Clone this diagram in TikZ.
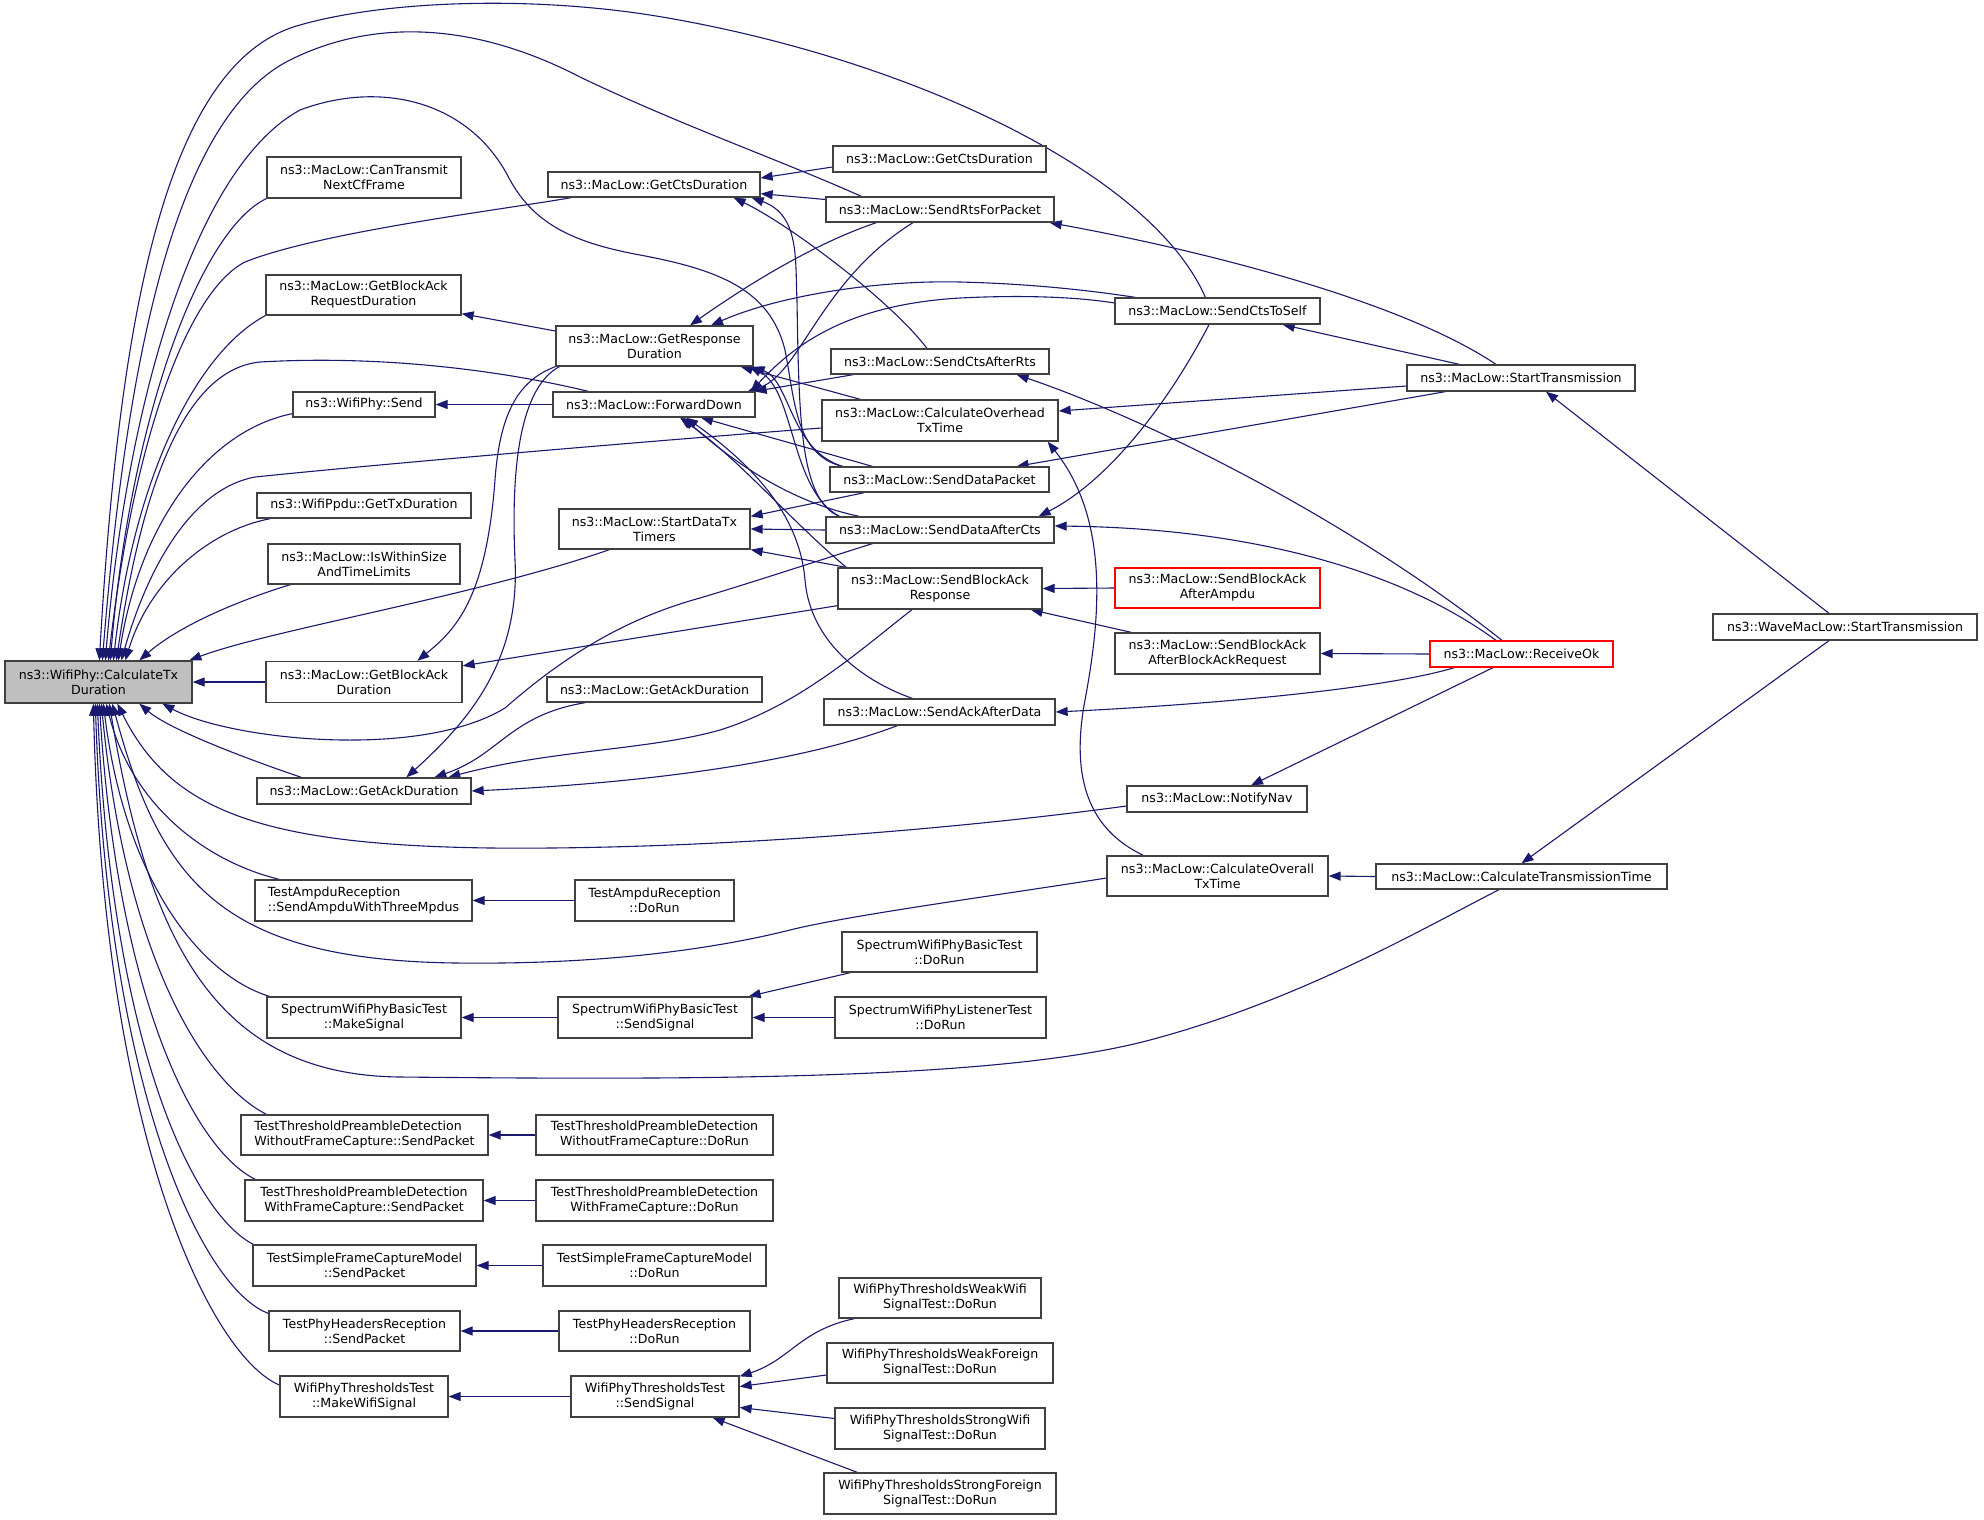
\documentclass[tikz,border=0pt]{standalone}
\usepackage{fontspec}
\setmainfont{DejaVu Sans}
\usetikzlibrary{arrows.meta,calc}
\pgfdeclarelayer{bg}
\pgfsetlayers{bg,main}
\definecolor{edgecol}{HTML}{191970}
\definecolor{boxcol}{HTML}{404040}
\definecolor{redcol}{HTML}{FF0000}
\definecolor{grayfill}{HTML}{BFBFBF}
\tikzset{
  box/.style={draw=boxcol, line width=1.3pt, fill=white, inner sep=0pt, align=center, font=\fontsize{12.6}{15}\selectfont},
  redbox/.style={box, draw=redcol},
  cedge/.style={draw=edgecol, line width=1.1pt, {Triangle[length=12pt,width=9pt]}-},
}
\begin{document}
\begin{tikzpicture}[x=1pt,y=-1pt]
\useasboundingbox (0,0) rectangle (1984,1519);
% column 1
\node[box,fill=grayfill,minimum width=187pt,minimum height=42pt] (ctd) at (98.5,682) {ns3::WifiPhy::CalculateTx\\Duration};
% column 2
\node[box,minimum width=194pt,minimum height=41pt] (cantx) at (364,177.5) {ns3::MacLow::CanTransmit\\NextCfFrame};
\node[box,minimum width=195pt,minimum height=40pt] (gbard) at (363.5,295) {ns3::MacLow::GetBlockAck\\RequestDuration};
\node[box,minimum width=142pt,minimum height=25pt] (send) at (364,404.5) {ns3::WifiPhy::Send};
\node[box,minimum width=214pt,minimum height=25pt] (ppdu) at (364,505.5) {ns3::WifiPpdu::GetTxDuration};
\node[box,minimum width=192pt,minimum height=40pt] (iswithin) at (364,564) {ns3::MacLow::IsWithinSize\\AndTimeLimits};
\node[box,minimum width=196pt,minimum height=41pt] (gbad) at (364,682) {ns3::MacLow::GetBlockAck\\Duration};
\node[box,minimum width=214pt,minimum height=26pt] (gadl) at (364,791) {ns3::MacLow::GetAckDuration};
\node[box,align=left,minimum width=217pt,minimum height=41pt] (ampdu) at (363.5,900.5) {TestAmpduReception\\::SendAmpduWithThreeMpdus};
\node[box,minimum width=194pt,minimum height=41pt] (mksig) at (364,1017.5) {SpectrumWifiPhyBasicTest\\::MakeSignal};
\node[box,align=left,minimum width=247pt,minimum height=40pt] (woSend) at (364.5,1135) {TestThresholdPreambleDetection\\WithoutFrameCapture::SendPacket};
\node[box,minimum width=238pt,minimum height=41pt] (wSend) at (364,1200.5) {TestThresholdPreambleDetection\\WithFrameCapture::SendPacket};
\node[box,minimum width=223pt,minimum height=41pt] (tsfcSend) at (364.5,1265.5) {TestSimpleFrameCaptureModel\\::SendPacket};
\node[box,minimum width=191pt,minimum height=40pt] (tphrSend) at (364.5,1331) {TestPhyHeadersReception\\::SendPacket};
\node[box,minimum width=168pt,minimum height=41pt] (mkwifi) at (364,1396.5) {WifiPhyThresholdsTest\\::MakeWifiSignal};
% column 3
\node[box,minimum width=212pt,minimum height=25pt] (gcd) at (654,184.5) {ns3::MacLow::GetCtsDuration};
\node[box,minimum width=197pt,minimum height=40pt] (grd) at (654.5,346) {ns3::MacLow::GetResponse\\Duration};
\node[box,minimum width=202pt,minimum height=25pt] (fwd) at (654,404.5) {ns3::MacLow::ForwardDown};
\node[box,minimum width=191pt,minimum height=40pt] (sdtt) at (654.5,529) {ns3::MacLow::StartDataTx\\Timers};
\node[box,minimum width=215pt,minimum height=25pt] (gadm) at (654.5,689.5) {ns3::MacLow::GetAckDuration};
\node[box,minimum width=159pt,minimum height=41pt] (ampduRun) at (654.5,900.5) {TestAmpduReception\\::DoRun};
\node[box,minimum width=194pt,minimum height=41pt] (ssig) at (655,1017.5) {SpectrumWifiPhyBasicTest\\::SendSignal};
\node[box,minimum width=237pt,minimum height=40pt] (woRun) at (654.5,1135) {TestThresholdPreambleDetection\\WithoutFrameCapture::DoRun};
\node[box,minimum width=237pt,minimum height=41pt] (wRun) at (654.5,1200.5) {TestThresholdPreambleDetection\\WithFrameCapture::DoRun};
\node[box,minimum width=223pt,minimum height=41pt] (tsfcRun) at (654.5,1265.5) {TestSimpleFrameCaptureModel\\::DoRun};
\node[box,minimum width=191pt,minimum height=40pt] (tphrRun) at (654.5,1331) {TestPhyHeadersReception\\::DoRun};
\node[box,minimum width=168pt,minimum height=41pt] (wpttSig) at (655,1396.5) {WifiPhyThresholdsTest\\::SendSignal};
% column 4
\node[box,minimum width=213pt,minimum height=26pt] (gcdr) at (939.5,159) {ns3::MacLow::GetCtsDuration};
\node[box,minimum width=228pt,minimum height=25pt] (srfp) at (940,209.5) {ns3::MacLow::SendRtsForPacket};
\node[box,minimum width=218pt,minimum height=25pt] (scar) at (940,361.5) {ns3::MacLow::SendCtsAfterRts};
\node[box,minimum width=236pt,minimum height=41pt] (coh) at (940,420.5) {ns3::MacLow::CalculateOverhead\\TxTime};
\node[box,minimum width=219pt,minimum height=25pt] (sdp) at (939.5,479.5) {ns3::MacLow::SendDataPacket};
\node[box,minimum width=228pt,minimum height=26pt] (sdac) at (940,530) {ns3::MacLow::SendDataAfterCts};
\node[box,minimum width=204pt,minimum height=41pt] (sbar) at (940,588.5) {ns3::MacLow::SendBlockAck\\Response};
\node[box,minimum width=231pt,minimum height=26pt] (saad) at (939.5,712) {ns3::MacLow::SendAckAfterData};
\node[box,minimum width=195pt,minimum height=40pt] (sbtRun) at (939.5,952) {SpectrumWifiPhyBasicTest\\::DoRun};
\node[box,minimum width=211pt,minimum height=41pt] (sltRun) at (940.5,1017.5) {SpectrumWifiPhyListenerTest\\::DoRun};
\node[box,minimum width=202pt,minimum height=40pt] (weakWifi) at (940,1298) {WifiPhyThresholdsWeakWifi\\SignalTest::DoRun};
\node[box,minimum width=226pt,minimum height=40pt] (weakForeign) at (940,1363) {WifiPhyThresholdsWeakForeign\\SignalTest::DoRun};
\node[box,minimum width=210pt,minimum height=41pt] (strongWifi) at (940,1428.5) {WifiPhyThresholdsStrongWifi\\SignalTest::DoRun};
\node[box,minimum width=232pt,minimum height=41pt] (strongForeign) at (940,1493.5) {WifiPhyThresholdsStrongForeign\\SignalTest::DoRun};
% column 5
\node[box,minimum width=205pt,minimum height=26pt] (scts) at (1217.5,311) {ns3::MacLow::SendCtsToSelf};
\node[redbox,minimum width=205pt,minimum height=40pt] (sbaaa) at (1217.5,588) {ns3::MacLow::SendBlockAck\\AfterAmpdu};
\node[box,minimum width=205pt,minimum height=41pt] (sbaabar) at (1217.5,653.5) {ns3::MacLow::SendBlockAck\\AfterBlockAckRequest};
\node[box,minimum width=180pt,minimum height=26pt] (nav) at (1217,799) {ns3::MacLow::NotifyNav};
\node[box,minimum width=221pt,minimum height=40pt] (cotx) at (1217.5,876) {ns3::MacLow::CalculateOverall\\TxTime};
% column 6
\node[box,minimum width=228pt,minimum height=26pt] (st) at (1521,378) {ns3::MacLow::StartTransmission};
\node[redbox,minimum width=183pt,minimum height=26pt] (rok) at (1521.5,654) {ns3::MacLow::ReceiveOk};
\node[box,minimum width=291pt,minimum height=25pt] (ctt) at (1521.5,876.5) {ns3::MacLow::CalculateTransmissionTime};
% column 7
\node[box,minimum width=264pt,minimum height=26pt] (wml) at (1845,627) {ns3::WaveMacLow::StartTransmission};

\begin{pgfonlayer}{bg}
\fill[white] (0,0) rectangle (1984,1519);
% ---- edges into CalculateTxDuration, top side
\draw[cedge] ($(ctd.north west)+(95,0)$) .. controls (120,300) and (170,60) .. (300,25) .. controls (380,2) and (520,-5) .. (650,15) .. controls (900,55) and (1150,170) .. ($(scts.north west)+(91,0)$);
\draw[cedge] ($(ctd.north west)+(98,0)$) .. controls (125,380) and (170,120) .. (290,60) .. controls (370,20) and (470,20) .. (580,77) .. controls (680,125) and (780,160) .. ($(srfp.north west)+(36,0)$);
\draw[cedge] ($(ctd.north west)+(101,0)$) .. controls (125,420) and (190,170) .. (300,110) .. controls (380,80) and (470,100) .. (510,180) .. controls (535,225) and (575,243) .. (640,255) .. controls (720,270) and (770,290) .. (785,350) .. controls (795,400) and (795,455) .. ($(sdp.north west)+(13,0)$);
\draw[cedge] ($(ctd.north west)+(104,0)$) .. controls (135,430) and (190,290) .. (245,262) .. controls (320,232) and (500,210) .. ($(gcd.south west)+(24,0)$);
\draw[cedge] ($(ctd.north west)+(106,0)$) .. controls (130,420) and (200,230) .. (cantx.south west);
\draw[cedge] ($(ctd.north west)+(109,0)$) .. controls (135,470) and (200,350) .. (gbard.south west);
\draw[cedge] ($(ctd.north west)+(112,0)$) .. controls (140,500) and (180,370) .. (260,362) .. controls (380,355) and (500,370) .. ($(fwd.north west)+(36,0)$);
\draw[cedge] ($(ctd.north west)+(114,0)$) .. controls (140,520) and (210,430) .. ($(send.south west)+(0,-4)$);
\draw[cedge] ($(ctd.north west)+(117,0)$) .. controls (150,560) and (195,488) .. (255,477) .. controls (400,462) and (700,437) .. ($(coh.west)+(0,7.5)$);
\draw[cedge] ($(ctd.north west)+(121,0)$) .. controls (150,580) and (210,530) .. ($(ppdu.south west)+(14,0)$);
\draw[cedge] ($(ctd.north west)+(135,0)$) .. controls (180,625) and (240,600) .. ($(iswithin.south west)+(23,0)$);
\draw[cedge] ($(ctd.north west)+(185,0)$) .. controls (270,630) and (480,595) .. ($(sdtt.south west)+(51,0)$);
\draw[cedge] (ctd.east) -- (gbad.west);
% ---- edges into CalculateTxDuration, bottom side
\draw[cedge] ($(ctd.south west)+(135,0)$) .. controls (170,730) and (250,760) .. ($(gadl.north west)+(45,0)$);
\draw[cedge] ($(ctd.south west)+(158,0)$) .. controls (230,740) and (420,760) .. (505,708) .. controls (560,660) and (620,620) .. (700,598) .. controls (760,580) and (820,560) .. ($(sdac.south west)+(47,0)$);
\draw[cedge] ($(ctd.south west)+(113,0)$) .. controls (170,810) and (260,845) .. (491,848) .. controls (700,850) and (950,830) .. ($(nav.west)+(0,7)$);
\draw[cedge] ($(ctd.south west)+(108,0)$) .. controls (160,880) and (220,960) .. (456,963) .. controls (620,965) and (730,945) .. (790,930) .. controls (850,915) and (1000,895) .. ($(cotx.west)+(0,2)$);
\draw[cedge] ($(ctd.south west)+(105,0)$) .. controls (150,950) and (220,1075) .. (400,1077) .. controls (700,1080) and (1000,1080) .. (1150,1040) .. controls (1300,1000) and (1420,930) .. ($(ctt.south)+(-22.5,0)$);
\draw[cedge] ($(ctd.south west)+(102,0)$) .. controls (130,800) and (200,860) .. ($(ampdu.north west)+(25,0)$);
\draw[cedge] ($(ctd.south west)+(99,0)$) .. controls (125,880) and (200,975) .. ($(mksig.north west)+(3,0)$);
\draw[cedge] ($(ctd.south west)+(97,0)$) .. controls (125,950) and (200,1080) .. ($(woSend.north west)+(26,0)$);
\draw[cedge] ($(ctd.south west)+(95,0)$) .. controls (118,1000) and (195,1150) .. ($(wSend.north west)+(11,0)$);
\draw[cedge] ($(ctd.south west)+(93,0)$) .. controls (112,1050) and (195,1215) .. ($(tsfcSend.north west)+(1,0)$);
\draw[cedge] ($(ctd.south west)+(91,0)$) .. controls (108,1100) and (205,1290) .. ($(tphrSend.north west)+(0,3)$);
\draw[cedge] ($(ctd.south west)+(89,0)$) .. controls (104,1150) and (215,1360) .. ($(mkwifi.north west)+(1,10)$);
% ---- column 3 targets
\draw[cedge] ($(gcd.east)+(0,-6.5)$) -- ($(gcdr.west)+(0,8)$);
\draw[cedge] ($(gcd.south east)+(0,-4)$) -- ($(srfp.west)+(0,-10)$);
\draw[cedge] ($(gcd.south east)+(-27,0)$) .. controls (790,225) and (890,300) .. ($(scar.north)+(-13,0)$);
\draw[cedge] ($(gcd.south east)+(-9,0)$) .. controls (800,215) and (795,260) .. (797,300) .. controls (799,420) and (800,500) .. ($(sdac.north west)+(14,0)$);
\draw[cedge] ($(gbard.south east)+(0,-2)$) -- ($(grd.west)+(0,-15)$);
\draw[cedge] ($(gbad.north west)+(152,0)$) .. controls (455,630) and (486,600) .. (495,480) .. controls (500,410) and (520,380) .. (grd.south west);
\draw[cedge] ($(gadl.north west)+(150,0)$) .. controls (470,720) and (520,660) .. (515,560) .. controls (510,450) and (525,385) .. ($(grd.south west)+(4,0)$);
\draw[cedge] ($(gadl.north west)+(178,0)$) .. controls (500,755) and (510,715) .. ($(gadm.south west)+(39,0)$);
\draw[cedge] ($(gadl.north west)+(192,0)$) .. controls (550,750) and (650,750) .. (720,730) .. controls (800,705) and (860,650) .. ($(sbar.south)+(-28,0)$);
\draw[cedge] (gadl.east) .. controls (600,785) and (780,770) .. ($(saad.south west)+(74,0)$);
\draw[cedge] ($(grd.north)+(35.5,0)$) .. controls (740,290) and (810,245) .. ($(srfp.south west)+(51,0)$);
\draw[cedge] ($(grd.north)+(56.5,0)$) .. controls (780,295) and (880,280) .. (960,282) .. controls (1040,284) and (1100,292) .. ($(scts.north west)+(21,0)$);
\draw[cedge] ($(grd.south east)+(-13,0)$) -- ($(coh.north west)+(39,0)$);
\draw[cedge] ($(grd.south east)+(-1,0)$) .. controls (790,380) and (790,450) .. ($(sdp.north west)+(13,0)$);
\draw[cedge] ($(grd.south east)+(-4,0)$) .. controls (795,390) and (790,490) .. ($(sdac.north west)+(14,0)$);
\draw[cedge] (send.east) -- (fwd.west);
\draw[cedge] ($(fwd.north east)+(-8,0)$) .. controls (800,375) and (820,280) .. ($(srfp.south)+(-27,0)$);
\draw[cedge] ($(fwd.north east)+(-5,0)$) .. controls (790,350) and (840,305) .. (960,298) .. controls (1040,294) and (1090,299) .. ($(scts.west)+(0,-8)$);
\draw[cedge] ($(fwd.north east)+(-1,0)$) -- ($(scar.south west)+(23,0)$);
\draw[cedge] ($(fwd.south)+(47,0)$) -- ($(sdp.north west)+(43,0)$);
\draw[cedge] ($(fwd.south)+(29,0)$) .. controls (720,450) and (780,500) .. ($(sdac.north west)+(34,0)$);
\draw[cedge] ($(fwd.south)+(26,0)$) .. controls (740,460) and (790,520) .. ($(sbar.north west)+(9,0)$);
\draw[cedge] ($(fwd.south)+(32,0)$) .. controls (760,470) and (800,520) .. (805,580) .. controls (810,640) and (860,680) .. ($(saad.north west)+(89,0)$);
\draw[cedge] ($(sdtt.north east)+(0,8)$) -- ($(sdp.south west)+(35,0)$);
\draw[cedge] (sdtt.east) -- (sdac.west);
\draw[cedge] (sdtt.south east) -- ($(sbar.north west)+(9,0)$);
\draw[cedge] ($(gbad.north east)+(0,5)$) -- ($(sbar.south west)+(0,-4)$);
% ---- columns 4 to 7
\draw[cedge] ($(srfp.south east)+(-5,0)$) .. controls (1200,250) and (1400,300) .. ($(st.north)+(-25,0)$);
\draw[cedge] ($(scts.south east)+(-38,0)$) -- ($(st.north west)+(53,0)$);
\draw[cedge] ($(coh.east)+(0,-9.5)$) -- ($(st.west)+(0,8)$);
\draw[cedge] ($(sdp.north east)+(-33,0)$) -- ($(st.south west)+(39,0)$);
\draw[cedge] ($(coh.south east)+(-11,0)$) .. controls (1110,520) and (1100,620) .. (1085,700) .. controls (1070,780) and (1090,830) .. ($(cotx.north west)+(37,0)$);
\draw[cedge] ($(scar.south east)+(-33,0)$) .. controls (1150,420) and (1350,520) .. ($(rok.north)+(-19.5,0)$);
\draw[cedge] ($(sdac.east)+(0,-4)$) .. controls (1250,528) and (1400,570) .. ($(rok.north)+(-25.5,0)$);
\draw[cedge] ($(sdac.north east)+(-16,0)$) .. controls (1110,480) and (1170,400) .. ($(scts.south)+(-8.5,0)$);
\draw[cedge] (sbar.east) -- (sbaaa.west);
\draw[cedge] ($(sbar.south east)+(-12,0)$) -- ($(sbaabar.north west)+(17,0)$);
\draw[cedge] (sbaabar.east) -- (rok.west);
\draw[cedge] (saad.east) .. controls (1200,705) and (1380,690) .. ($(rok.south west)+(25,0)$);
\draw[cedge] ($(nav.north)+(34,0)$) -- ($(rok.south)+(-28.5,0)$);
\draw[cedge] (cotx.east) -- (ctt.west);
\draw[cedge] (ctt.north) -- ($(wml.south)+(-16,0)$);
\draw[cedge] ($(st.south)+(25,0)$) -- ($(wml.north)+(-16,0)$);
% ---- tests
\draw[cedge] (ampdu.east) -- (ampduRun.west);
\draw[cedge] (mksig.east) -- (ssig.west);
\draw[cedge] (ssig.east) -- (sltRun.west);
\draw[cedge] ($(ssig.north east)+(-4,0)$) -- ($(sbtRun.south west)+(9,0)$);
\draw[cedge] (woSend.east) -- (woRun.west);
\draw[cedge] (wSend.east) -- (wRun.west);
\draw[cedge] (tsfcSend.east) -- (tsfcRun.west);
\draw[cedge] (tphrSend.east) -- (tphrRun.west);
\draw[cedge] (mkwifi.east) -- (wpttSig.west);
\draw[cedge] ($(wpttSig.north east)+(0,1)$) .. controls (790,1360) and (800,1330) .. ($(weakWifi.south west)+(16,0)$);
\draw[cedge] ($(wpttSig.east)+(0,-10)$) -- ($(weakForeign.west)+(0,12)$);
\draw[cedge] ($(wpttSig.east)+(0,11)$) -- ($(strongWifi.west)+(0,-10)$);
\draw[cedge] ($(wpttSig.south east)+(-27,0)$) -- ($(strongForeign.north west)+(34,0)$);
\end{pgfonlayer}
\end{tikzpicture}
\end{document}
